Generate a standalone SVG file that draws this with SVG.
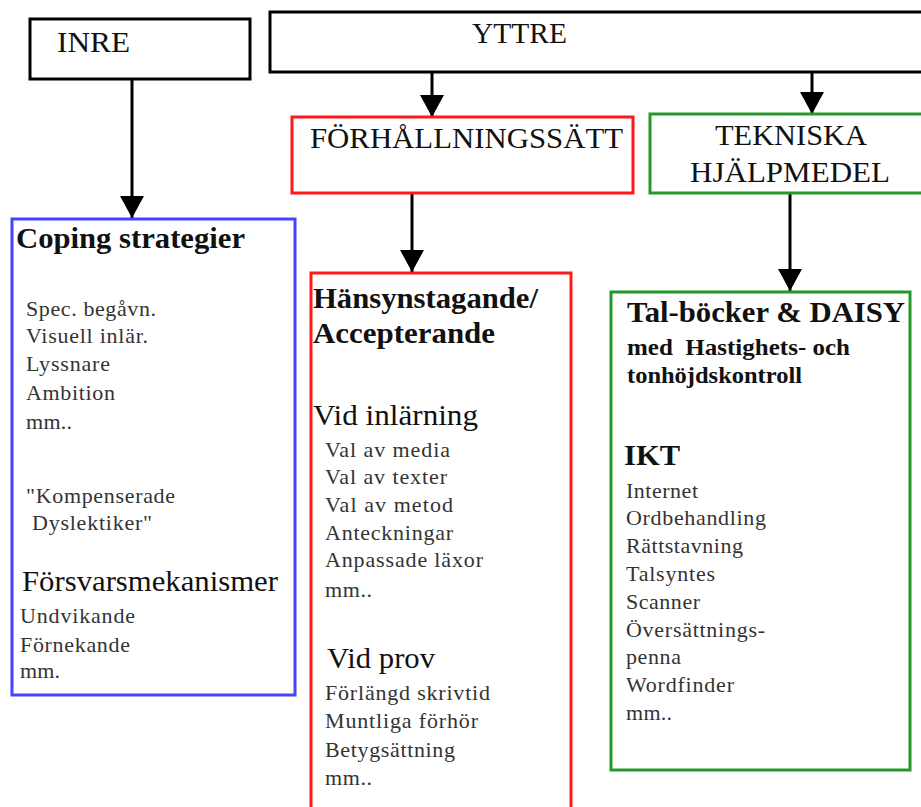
<svg xmlns="http://www.w3.org/2000/svg" width="921" height="807" viewBox="0 0 921 807">
<style>
text{font-family:"Liberation Serif","Times New Roman",serif;}
.box{fill:#fff;stroke-width:3;}
.k{stroke:#000;}
.r{stroke:#ff1a1a;}
.g{stroke:#22992a;}
.b{stroke:#4444ff;}
.hd{font-size:30px;fill:#111;}
.bh{font-size:30px;font-weight:bold;fill:#111;}
.sh{font-size:29px;fill:#111;}
.bd{font-size:22px;fill:#333;}
.bs{font-size:23px;font-weight:bold;fill:#111;}
.con{stroke:#000;stroke-width:3;fill:none;}
</style>
<defs>
<marker id="ah" viewBox="0 0 22 24" refX="22" refY="12" markerWidth="22" markerHeight="24" markerUnits="userSpaceOnUse" orient="auto">
<path d="M0,0 L22,12 L0,24 z" fill="#000"/>
</marker>
</defs>
<rect width="921" height="807" fill="#fff"/>
<g id="connectors">
<path class="con" d="M132,79 L132,218" marker-end="url(#ah)"/>
<path class="con" d="M432,72 L432,117" marker-end="url(#ah)"/>
<path class="con" d="M812,72 L812,114" marker-end="url(#ah)"/>
<path class="con" d="M412,193 L412,272" marker-end="url(#ah)"/>
<path class="con" d="M790,193 L790,291" marker-end="url(#ah)"/>
</g>
<g id="inre">
<rect class="box k" x="30" y="19" width="220" height="60"/>
<text class="hd" x="57" y="52" textLength="73" lengthAdjust="spacingAndGlyphs">INRE</text>
</g>
<g id="yttre">
<rect class="box k" x="270" y="12" width="670" height="60"/>
<text class="hd" x="472" y="43" textLength="95" lengthAdjust="spacingAndGlyphs">YTTRE</text>
</g>
<g id="forhallningssatt">
<rect class="box r" x="292" y="117" width="341" height="76"/>
<text class="hd" x="310" y="148" textLength="313" lengthAdjust="spacingAndGlyphs">FÖRHÅLLNINGSSÄTT</text>
</g>
<g id="tekniska">
<rect class="box g" x="650" y="114" width="290" height="79"/>
<text class="hd" x="715" y="145" textLength="152" lengthAdjust="spacingAndGlyphs">TEKNISKA</text>
<text class="hd" x="690" y="182" textLength="200" lengthAdjust="spacingAndGlyphs">HJÄLPMEDEL</text>
</g>
<g id="coping">
<rect class="box b" x="12" y="219" width="283" height="476"/>
<text class="bh" x="16" y="248" textLength="229" lengthAdjust="spacingAndGlyphs">Coping strategier</text>
<text class="bd" x="26" y="316" textLength="130" lengthAdjust="spacing">Spec. begåvn.</text>
<text class="bd" x="26" y="343" textLength="122" lengthAdjust="spacing">Visuell inlär.</text>
<text class="bd" x="26" y="371" textLength="84" lengthAdjust="spacing">Lyssnare</text>
<text class="bd" x="26" y="400" textLength="89" lengthAdjust="spacing">Ambition</text>
<text class="bd" x="26" y="429" textLength="46" lengthAdjust="spacing">mm..</text>
<text class="bd" x="26" y="503" textLength="149" lengthAdjust="spacing">"Kompenserade</text>
<text class="bd" x="32" y="530" textLength="120" lengthAdjust="spacing">Dyslektiker"</text>
<text class="sh" x="22" y="591" textLength="256" lengthAdjust="spacingAndGlyphs">Försvarsmekanismer</text>
<text class="bd" x="20" y="623" textLength="115" lengthAdjust="spacing">Undvikande</text>
<text class="bd" x="20" y="652" textLength="110" lengthAdjust="spacing">Förnekande</text>
<text class="bd" x="20" y="678" textLength="40" lengthAdjust="spacing">mm.</text>
</g>
<g id="hansyn">
<rect class="box r" x="311" y="273" width="260" height="560"/>
<text class="bh" x="313" y="308" textLength="225" lengthAdjust="spacingAndGlyphs">Hänsynstagande/</text>
<text class="bh" x="313" y="343" textLength="182" lengthAdjust="spacingAndGlyphs">Accepterande</text>
<text class="sh" x="313" y="425" textLength="165" lengthAdjust="spacingAndGlyphs">Vid inlärning</text>
<text class="bd" x="325" y="457" textLength="125" lengthAdjust="spacing">Val av media</text>
<text class="bd" x="325" y="484" textLength="122" lengthAdjust="spacing">Val av texter</text>
<text class="bd" x="325" y="512" textLength="128" lengthAdjust="spacing">Val av metod</text>
<text class="bd" x="325" y="540" textLength="128" lengthAdjust="spacing">Anteckningar</text>
<text class="bd" x="325" y="567" textLength="158" lengthAdjust="spacing">Anpassade läxor</text>
<text class="bd" x="325" y="597" textLength="47" lengthAdjust="spacing">mm..</text>
<text class="sh" x="327" y="668" textLength="108" lengthAdjust="spacingAndGlyphs">Vid prov</text>
<text class="bd" x="325" y="700" textLength="165" lengthAdjust="spacing">Förlängd skrivtid</text>
<text class="bd" x="325" y="728" textLength="153" lengthAdjust="spacing">Muntliga förhör</text>
<text class="bd" x="325" y="757" textLength="130" lengthAdjust="spacing">Betygsättning</text>
<text class="bd" x="325" y="785" textLength="47" lengthAdjust="spacing">mm..</text>
</g>
<g id="talbocker">
<rect class="box g" x="611" y="292" width="299" height="478"/>
<text class="bh" x="627" y="322" textLength="278" lengthAdjust="spacingAndGlyphs">Tal-böcker &amp; DAISY</text>
<text class="bs" x="627" y="355" textLength="223" lengthAdjust="spacingAndGlyphs" xml:space="preserve">med  Hastighets- och</text>
<text class="bs" x="627" y="383" textLength="175" lengthAdjust="spacingAndGlyphs">tonhöjdskontroll</text>
<text class="bh" x="624" y="465" textLength="56" lengthAdjust="spacingAndGlyphs">IKT</text>
<text class="bd" x="626" y="498" textLength="72" lengthAdjust="spacing">Internet</text>
<text class="bd" x="626" y="525" textLength="140" lengthAdjust="spacing">Ordbehandling</text>
<text class="bd" x="626" y="553" textLength="117" lengthAdjust="spacing">Rättstavning</text>
<text class="bd" x="626" y="581" textLength="89" lengthAdjust="spacing">Talsyntes</text>
<text class="bd" x="626" y="609" textLength="74" lengthAdjust="spacing">Scanner</text>
<text class="bd" x="626" y="637" textLength="139" lengthAdjust="spacing">Översättnings-</text>
<text class="bd" x="626" y="664" textLength="55" lengthAdjust="spacing">penna</text>
<text class="bd" x="626" y="692" textLength="108" lengthAdjust="spacing">Wordfinder</text>
<text class="bd" x="626" y="720" textLength="46" lengthAdjust="spacing">mm..</text>
</g>
</svg>
